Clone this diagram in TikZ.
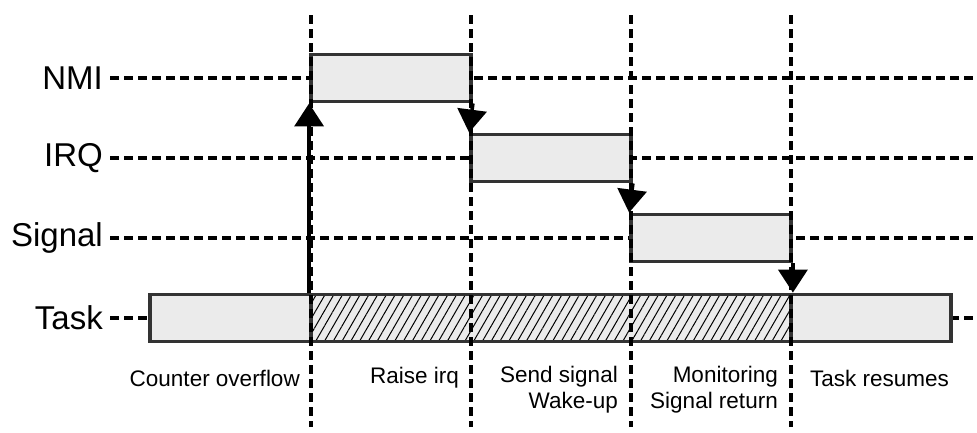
\documentclass[tikz,border=0pt]{standalone}
\usepackage{fontspec}
\setmainfont{Liberation Sans}
\usepackage{tikz}
\usetikzlibrary{arrows.meta,patterns.meta}

\definecolor{boxfill}{HTML}{EBEBEB}
\definecolor{boxline}{HTML}{333333}

\tikzset{
  level/.style={anchor=east, inner sep=0pt, font=\fontsize{33}{38}\selectfont},
  note/.style={inner sep=0pt, align=right, font=\fontsize{22.5}{26}\selectfont},
  track/.style={line width=3.8pt, dash pattern=on 9pt off 5pt},
  slot/.style={draw=boxline, line width=3.8pt, fill=boxfill, minimum height=47pt, inner sep=0pt},
  busy/.style={slot, fill=white, pattern={Lines[angle=60, distance=7.6pt, line width=1pt]}},
  jump/.style={line width=3.6pt, -{Triangle[width=29pt, length=23pt]}},
}

\begin{document}
\begin{tikzpicture}[x=1pt, y=-1pt]
  \useasboundingbox (0,0) rectangle (977,432);
  \coordinate (right) at (977,0);

  % priority levels
  \node[level] (lnmi) at (103,78)  {NMI};
  \node[level] (lirq) at (103,158) {IRQ};
  \node[level] (lsig) at (103,238) {Signal};
  \node[level] (ltsk) at (103,318) {Task};
  \foreach \l in {lnmi,lirq,lsig,ltsk}
    \draw[track] ([xshift=7pt]\l.east) -- (\l.east -| right);

  % execution slots
  \node[slot, minimum width=160pt] (nmi) at (391,78)  {};
  \node[slot, minimum width=160pt] (irq) at (551,158) {};
  \node[slot, minimum width=160pt] (sig) at (711,238) {};
  \node[slot, minimum width=801pt] (task) at (550.5,318) {};
  \node[busy, minimum width=480pt] (hold) at (551,318) {};

  % phase boundaries
  \foreach \x in {311,471,631,791}
    \draw[track] (\x,15) -- (\x,427);

  % switches between levels
  \draw[jump] (nmi.south west |- task.north) -- (nmi.south west);
  \draw[jump] (nmi.south east) -- (irq.north west);
  \draw[jump] (irq.south east) -- (sig.north west);
  \draw[jump] (sig.south east) -- (sig.south east |- task.north);

  % phases
  \node[note, anchor=east] (p1) at (300,378) {Counter overflow};
  \node[note, anchor=east] (p2) at (459,378) {Raise irq};
  \node[note, anchor=north east] (p3) at (618,366) {Send signal\\Wake-up};
  \node[note, anchor=north east] (p4) at (778,366) {Monitoring\\Signal return};
  \node[note, anchor=west] (p5) at (810,378) {Task resumes};
\end{tikzpicture}
\end{document}
